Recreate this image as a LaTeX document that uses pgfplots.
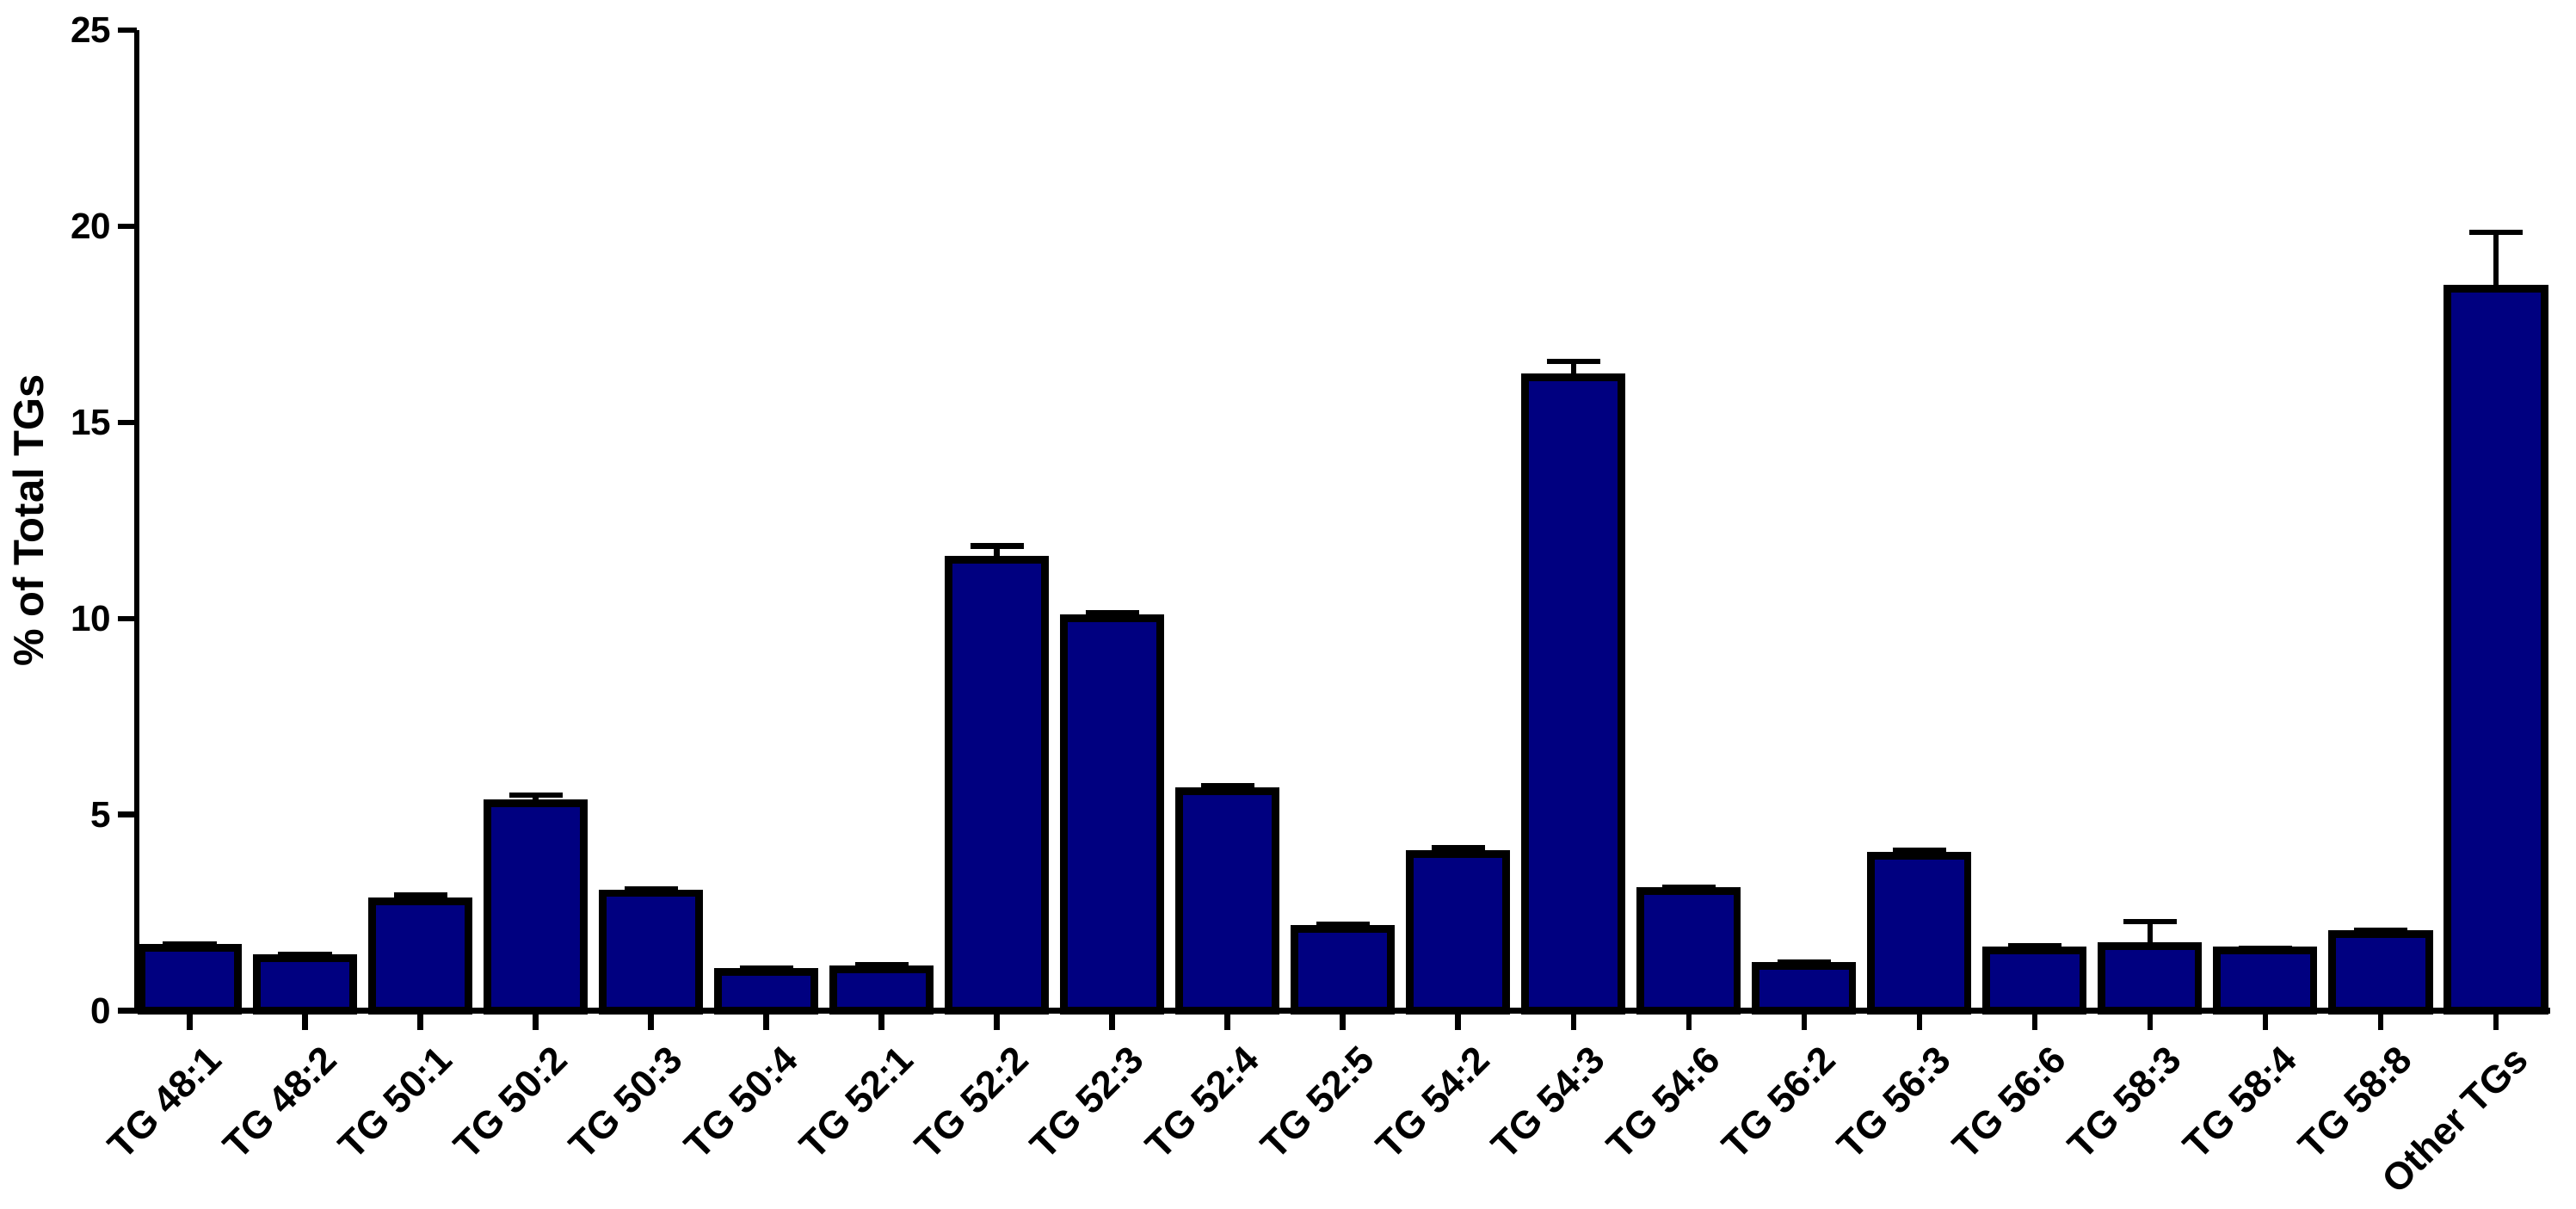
\documentclass[border=0pt]{standalone}
\usepackage{pgfplots}
\pgfplotsset{compat=1.18}
\usepackage{pgfplotstable}
\usepackage{fontspec}
\setmainfont{Liberation Sans}
\definecolor{barnavy}{HTML}{000080}

% mean and upper error (percent of total TGs)
\pgfplotstableread{
x  y      e
0  1.60   0.10
1  1.35   0.10
2  2.80   0.15
3  5.30   0.20
4  3.00   0.10
5  1.00   0.10
6  1.05   0.12
7  11.50  0.35
8  10.00  0.15
9  5.60   0.15
10 2.10   0.10
11 4.00   0.15
12 16.15  0.40
13 3.05   0.10
14 1.15   0.10
15 3.95   0.15
16 1.55   0.10
17 1.65   0.63
18 1.55   0.05
19 1.95   0.10
20 18.40  1.45
}\tgdata

\begin{document}
\begin{tikzpicture}
\begin{axis}[
  scale only axis,
  width=630pt, height=256pt,
  ybar, bar width=25.2pt, bar shift=0pt,
  xmin=-0.46, xmax=20.47,
  ymin=0, ymax=25,
  ytick={0,5,10,15,20,25},
  xtick=data,
  xticklabels={TG 48:1, TG 48:2, TG 50:1, TG 50:2, TG 50:3, TG 50:4, TG 52:1,
    TG 52:2, TG 52:3, TG 52:4, TG 52:5, TG 54:2, TG 54:3, TG 54:6, TG 56:2,
    TG 56:3, TG 56:6, TG 58:3, TG 58:4, TG 58:8, Other TGs},
  axis x line=bottom, axis y line=left,
  axis line style={line width=1.5pt, -},
  tick align=outside,
  major tick length=5pt,
  tick style={line width=1.5pt, black},
  /pgf/number format/assume math mode=true,
  y tick label style={font=\bfseries\fontsize{9.5}{11}\selectfont, inner sep=1.5pt},
  x tick label style={font=\bfseries\fontsize{10}{11}\selectfont,
    rotate=45, anchor=north east, inner sep=1pt, xshift=1.5pt, yshift=-4pt},
  ylabel={\% of Total TGs},
  ylabel style={font=\bfseries\fontsize{11}{13}\selectfont},
  ylabel shift=2pt,
  clip=false,
]
\addplot[
  fill=barnavy, draw=black, line width=2pt,
  error bars/.cd,
    y dir=plus, y explicit,
    error mark=-,
    error mark options={rotate=90, line width=1.4pt, mark size=7pt, black},
    error bar style={line width=1.5pt, black},
] table[x=x, y=y, y error=e] {\tgdata};
\end{axis}
% a little white space round the chart, as in the reference
\path ([yshift=3pt]current bounding box.north) ([yshift=-2pt]current bounding box.south)
      ([xshift=6pt]current bounding box.east);
\end{tikzpicture}
\end{document}
